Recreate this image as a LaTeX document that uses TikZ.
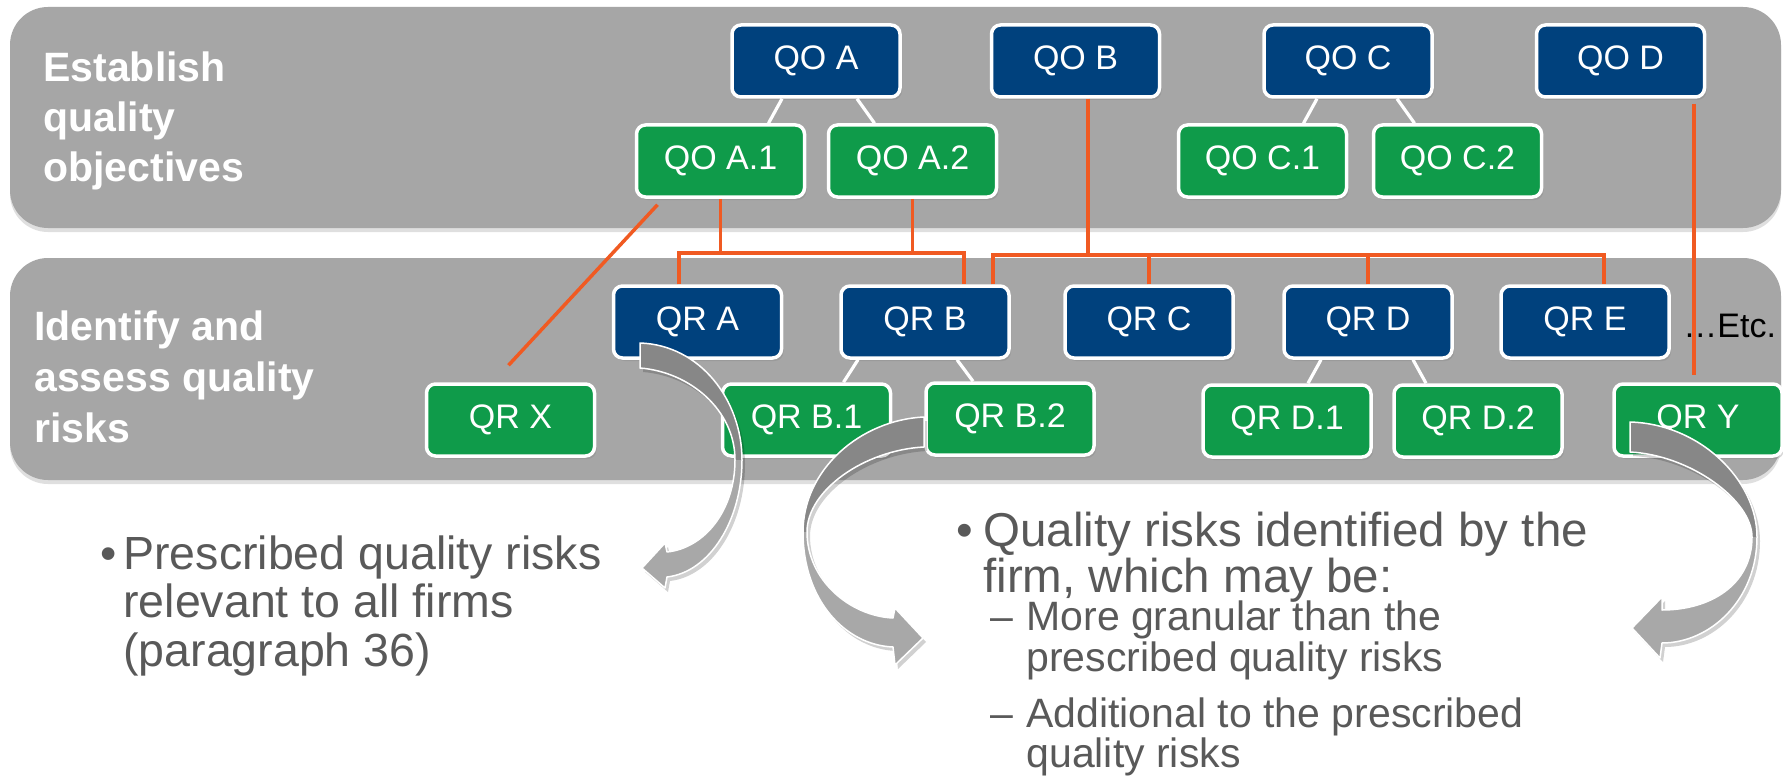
\documentclass[tikz,border=0pt]{standalone}
\usepackage{fontspec}
\setmainfont{Liberation Sans}
\usetikzlibrary{shadows,calc}
\definecolor{qblue}{RGB}{0,65,125}
\definecolor{qgreen}{RGB}{15,155,74}
\definecolor{bandgray}{RGB}{166,166,166}
\definecolor{orng}{RGB}{240,90,34}
\definecolor{txtgray}{RGB}{89,89,89}
\definecolor{arrdark}{RGB}{135,135,135}
\definecolor{arrlight}{RGB}{168,168,168}
\begin{document}
\begin{tikzpicture}[x=0.5pt,y=-0.5pt,
  qbox/.style={draw=white, line width=1.75pt, rounded corners=4.5pt,
    minimum width=84pt, minimum height=36pt, inner sep=0pt, text=white,
    font=\fontsize{17pt}{20pt}\selectfont,
    drop shadow={shadow xshift=1pt, shadow yshift=-1.5pt, opacity=0.3}},
  bluebox/.style={qbox, fill=qblue},
  greenbox/.style={qbox, fill=qgreen},
  bandst/.style={fill=bandgray, rounded corners=19pt,
    drop shadow={shadow xshift=0pt, shadow yshift=-2pt, opacity=0.25}},
  wline/.style={draw=white, line width=1.6pt},
  oline/.style={draw=orng, line width=1.75pt},
  lbl/.style={anchor=base west, text=white, inner sep=0pt,
    font=\bfseries\fontsize{20.5pt}{25pt}\selectfont},
  maintxt/.style={anchor=base west, text=txtgray, inner sep=0pt,
    font=\fontsize{23.75pt}{28pt}\selectfont},
  lefttxt/.style={anchor=base west, text=txtgray, inner sep=0pt,
    font=\fontsize{23.25pt}{28pt}\selectfont},
  subtxt/.style={anchor=base west, text=txtgray, inner sep=0pt,
    font=\fontsize{20.5pt}{24pt}\selectfont},
  arrowline/.style={draw=white, line width=0.75pt, line join=round}
]
\useasboundingbox (0,0) rectangle (1783,781);
\fill[white] (0,0) rectangle (1783,781);

% bands
\path[bandst] (10,7) rectangle (1781,228);
\path[bandst] (10,258) rectangle (1781,480);

% band labels
\node[lbl] (l1a) at (43,82) {Establish};
\node[lbl] (l1b) at (43,132) {quality};
\node[lbl] (l1c) at (43,182) {objectives};
\node[lbl] (l2a) at (34,340) {Identify and};
\node[lbl] (l2b) at (34,391) {assess quality};
\node[lbl] (l2c) at (34,442) {risks};

% coordinates for connectors
\coordinate (b1a) at (679,253);
\coordinate (b1b) at (964,253);
\coordinate (b2a) at (993,255);
\coordinate (b2q) at (1088,255);
\coordinate (b2b) at (1604,255);
\coordinate (dx) at (1694,0);

% nodes top
\node[bluebox] (qoa) at (816,61) {QO A};
\node[bluebox] (qob) at (1075.5,61) {QO B};
\node[bluebox] (qoc) at (1348,61) {QO C};
\node[bluebox] (qod) at (1620.5,61) {QO D};
\node[greenbox] (qoa1) at (720.5,161) {QO A.1};
\node[greenbox] (qoa2) at (912.5,161) {QO A.2};
\node[greenbox] (qoc1) at (1262.5,161) {QO C.1};
\node[greenbox] (qoc2) at (1457.5,161) {QO C.2};
% nodes bottom
\node[bluebox] (qra) at (697.5,322) {QR A};
\node[bluebox] (qrb) at (925,322) {QR B};
\node[bluebox] (qrc) at (1149,322) {QR C};
\node[bluebox] (qrd) at (1368,322) {QR D};
\node[bluebox] (qre) at (1585,322) {QR E};
\node[greenbox] (qrx) at (510.5,420) {QR X};
\node[greenbox] (qrb1) at (806.5,420) {QR B.1};
\node[greenbox] (qrb2) at (1010,419) {QR B.2};
\node[greenbox] (qrd1) at (1287,421) {QR D.1};
\node[greenbox] (qrd2) at (1478,421) {QR D.2};
\node[greenbox] (qry) at (1698,420) {QR Y};

% white connectors
\draw[wline] ($(qoa.south)+(-34,0)$) -- ($(qoa1.north)+(48,0)$);
\draw[wline] ($(qoa.south)+(41,0)$) -- ($(qoa2.north)+(-38,0)$);
\draw[wline] ($(qoc.south)+(-31,0)$) -- ($(qoc1.north)+(41,0)$);
\draw[wline] ($(qoc.south)+(49,0)$) -- ($(qoc2.north)+(-43,0)$);
\draw[wline] ($(qrb.south)+(-67,0)$) -- ($(qrb1.north)+(37,0)$);
\draw[wline] ($(qrb.south)+(32,0)$) -- ($(qrb2.north)+(-37,0)$);
\draw[wline] ($(qrd.south)+(-47,0)$) -- ($(qrd1.north)+(21,0)$);
\draw[wline] ($(qrd.south)+(45,0)$) -- ($(qrd2.north)+(-52,0)$);

% orange connectors
\draw[oline] (qra.north -| b1a) -- (b1a) -- (b1b) -- (qrb.north -| b1b);
\draw[oline] (qoa1.south) -- (qoa1.south |- b1a);
\draw[oline] (qoa2.south) -- (qoa2.south |- b1a);
\draw[oline] (qrb.north -| b2a) -- (b2a) -- (b2b) -- (qre.north -| b2b);
\draw[oline] (qob.south -| b2q) -- (b2q);
\draw[oline] (qrc.north) -- (qrc.north |- b2a);
\draw[oline] (qrd.north) -- (qrd.north |- b2a);
\draw[oline] ($(qoa1.south)+(-63,6)$) -- ($(qrx.north)+(-2,-17)$);
\draw[oline, shorten <=2.5pt, shorten >=3.5pt] (qod.south -| dx) -- (qry.north -| dx);

% Etc.
\node[anchor=base west, inner sep=0pt, font=\fontsize{17pt}{20pt}\selectfont] (etc) at (1683,337) {…Etc.};

% curved arrows
% arrow 1
\fill[black, opacity=0.18] ([shift={(3,4)}]640,343) .. controls ([shift={(3,4)}]700,345) and ([shift={(3,4)}]742,400) .. ([shift={(3,4)}]742,460) .. controls ([shift={(3,4)}]742,520) and ([shift={(3,4)}]710,572) .. ([shift={(3,4)}]667,577) -- ([shift={(3,4)}]665,588) -- ([shift={(3,4)}]642,568) -- ([shift={(3,4)}]665,543) -- ([shift={(3,4)}]667,552) .. controls ([shift={(3,4)}]705,548) and ([shift={(3,4)}]735,510) .. ([shift={(3,4)}]735,460) .. controls ([shift={(3,4)}]735,410) and ([shift={(3,4)}]690,372) .. ([shift={(3,4)}]640,368) -- cycle;
\fill[arrdark] (640,343) .. controls (700,345) and (742,400) .. (742,460) -- (735,460) .. controls (735,410) and (690,372) .. (640,368) -- cycle;
\fill[arrlight] (742,460) .. controls (742,520) and (710,572) .. (667,577) -- (665,588) -- (642,568) -- (665,543) -- (667,552) .. controls (705,548) and (735,510) .. (735,460) -- cycle;
\draw[arrowline] (640,343) .. controls (700,345) and (742,400) .. (742,460) .. controls (742,520) and (710,572) .. (667,577) -- (665,588) -- (642,568) -- (665,543) -- (667,552) .. controls (705,548) and (735,510) .. (735,460) .. controls (735,410) and (690,372) .. (640,368) -- cycle;

% arrow 2
\fill[black, opacity=0.18] ([shift={(3,4)}]924,417) .. controls ([shift={(3,4)}]860,420) and ([shift={(3,4)}]803,470) .. ([shift={(3,4)}]803,532) .. controls ([shift={(3,4)}]803,600) and ([shift={(3,4)}]845,645) .. ([shift={(3,4)}]893,647) -- ([shift={(3,4)}]895,665) -- ([shift={(3,4)}]923,638) -- ([shift={(3,4)}]895,608) -- ([shift={(3,4)}]893,618) .. controls ([shift={(3,4)}]850,616) and ([shift={(3,4)}]807,580) .. ([shift={(3,4)}]807,532) .. controls ([shift={(3,4)}]807,490) and ([shift={(3,4)}]865,450) .. ([shift={(3,4)}]924,447) -- cycle;
\fill[arrdark] (924,417) .. controls (860,420) and (803,470) .. (803,532) -- (807,532) .. controls (807,490) and (865,450) .. (924,447) -- cycle;
\fill[arrlight] (803,532) .. controls (803,600) and (845,645) .. (893,647) -- (895,665) -- (923,638) -- (895,608) -- (893,618) .. controls (850,616) and (807,580) .. (807,532) -- cycle;
\draw[arrowline] (924,417) .. controls (860,420) and (803,470) .. (803,532) .. controls (803,600) and (845,645) .. (893,647) -- (895,665) -- (923,638) -- (895,608) -- (893,618) .. controls (850,616) and (807,580) .. (807,532) .. controls (807,490) and (865,450) .. (924,447) -- cycle;

% arrow 3
\fill[black, opacity=0.18] ([shift={(3,4)}]1630,422) .. controls ([shift={(3,4)}]1700,424) and ([shift={(3,4)}]1757,480) .. ([shift={(3,4)}]1757,537) .. controls ([shift={(3,4)}]1757,600) and ([shift={(3,4)}]1710,643) .. ([shift={(3,4)}]1662,643) -- ([shift={(3,4)}]1660,658) -- ([shift={(3,4)}]1632,628) -- ([shift={(3,4)}]1662,597) -- ([shift={(3,4)}]1662,610) .. controls ([shift={(3,4)}]1710,610) and ([shift={(3,4)}]1752,585) .. ([shift={(3,4)}]1752,537) .. controls ([shift={(3,4)}]1752,500) and ([shift={(3,4)}]1690,455) .. ([shift={(3,4)}]1630,452) -- cycle;
\fill[arrdark] (1630,422) .. controls (1700,424) and (1757,480) .. (1757,537) -- (1752,537) .. controls (1752,500) and (1690,455) .. (1630,452) -- cycle;
\fill[arrlight] (1757,537) .. controls (1757,600) and (1710,643) .. (1662,643) -- (1660,658) -- (1632,628) -- (1662,597) -- (1662,610) .. controls (1710,610) and (1752,585) .. (1752,537) -- cycle;
\draw[arrowline] (1630,422) .. controls (1700,424) and (1757,480) .. (1757,537) .. controls (1757,600) and (1710,643) .. (1662,643) -- (1660,658) -- (1632,628) -- (1662,597) -- (1662,610) .. controls (1710,610) and (1752,585) .. (1752,537) .. controls (1752,500) and (1690,455) .. (1630,452) -- cycle;

% left bullet text
\node[lefttxt] (lb) at (100,569) {•};
\node[lefttxt] (lt1) at (123,569) {Prescribed quality risks};
\node[lefttxt] (lt2) at (123,617) {relevant to all firms};
\node[lefttxt] (lt3) at (123,666) {(paragraph 36)};

% right bullet text
\node[maintxt] (rb) at (956,546) {•};
\node[maintxt] (rt1) at (983,546) {Quality risks identified by the};
\node[maintxt] (rt2) at (983,592) {firm, which may be:};
\node[subtxt] (rs1d) at (990,630) {–};
\node[subtxt] (rs1a) at (1026,630) {More granular than the};
\node[subtxt] (rs1b) at (1026,671) {prescribed quality risks};
\node[subtxt] (rs2d) at (990,727) {–};
\node[subtxt] (rs2a) at (1026,727) {Additional to the prescribed};
\node[subtxt] (rs2b) at (1026,767) {quality risks};
\end{tikzpicture}
\end{document}
